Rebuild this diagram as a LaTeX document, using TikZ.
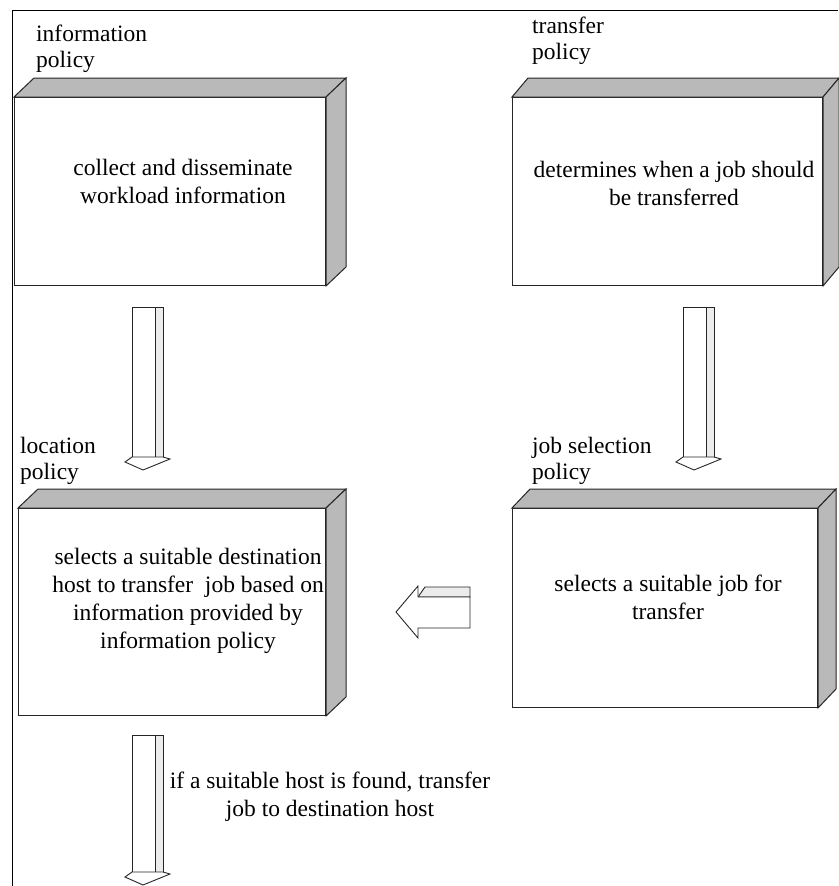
\documentclass[tikz,border=0pt]{standalone}
\usepackage{fontspec}
\setmainfont{Liberation Serif}
\usetikzlibrary{calc}

\tikzset{
  front/.style={draw=black!85,line width=1pt,fill=white,inner sep=0,anchor=north west},
  shade/.style={draw=black!85,line width=1pt,fill=gray!55},
  stem/.style={draw=black!85,line width=0.9pt,fill=white},
  stemside/.style={draw=black!85,line width=0.9pt,fill=gray!15},
  caption/.style={font=\fontsize{23.5}{26}\selectfont,align=left,anchor=north west,inner sep=0},
  boxtext/.style={font=\fontsize{23.5}{28}\selectfont,align=center,inner sep=0}
}

% depth faces of a box: name, shift x
\newcommand{\boxdepth}[2]{%
  \draw[shade] (#1.north west) -- ++(#2,-19) -- ($(#1.north east)+(#2,-19)$) -- (#1.north east) -- cycle;
  \draw[shade] (#1.north east) -- ($(#1.north east)+(#2,-19)$) -- ($(#1.south east)+(#2,-19)$) -- (#1.south east) -- cycle;
}
% block arrow pointing down: top coordinate, length of stem
\newcommand{\downblock}[2]{%
  \draw[stemside] ($(#1)+(23,0)$) rectangle ($(#1)+(31,#2)$);
  \draw[stem] (#1) rectangle ($(#1)+(23,#2)$);
  \draw[stem] ($(#1)+(0,#2)$) -- ($(#1)+(-7,#2+5)$) -- ($(#1)+(11,#2+13)$) -- ($(#1)+(38,#2+2)$) -- ($(#1)+(31,#2)$) -- cycle;
}

\begin{document}
\begin{tikzpicture}[x=1pt,y=1pt,yscale=-1]
\useasboundingbox (0,0) rectangle (838,886);

%Shape: frame
\draw[line width=1pt] (12,886) -- (12,10) -- (838,10);

%Shape: boxes
\node[front,minimum width=311pt,minimum height=188pt] (info) at (14,97) {};
\boxdepth{info}{20}
\node[front,minimum width=310pt,minimum height=188pt] (transfer) at (512,97) {};
\boxdepth{transfer}{16}
\node[front,minimum width=307pt,minimum height=207pt] (location) at (18,508) {};
\boxdepth{location}{20}
\node[front,minimum width=305pt,minimum height=199pt] (selection) at (512,508) {};
\boxdepth{selection}{18}

%Shape: block arrows
\coordinate (a1) at (132,307);
\coordinate (a2) at (683,307);
\coordinate (a3) at (132,735);
\downblock{a1}{150}
\downblock{a2}{150}
\downblock{a3}{137}

% arrow from job selection to location
\coordinate (a4) at (470,597);
\draw[stemside] (a4) -- ++(0,-10) -- ++(-45,0) -- ++(-7,10) -- cycle;
\draw[stem] (a4) -- ++(-52,0) -- ++(0,-11) -- ++(-22,26) -- ++(22,26) -- ++(0,-10) -- ++(52,0) -- cycle;

% Text Node
\node[caption] (infolabel) at (36,25) {information\\policy};
\node[caption] (transferlabel) at (532,17) {transfer\\policy};
\node[caption] (locationlabel) at (20,437) {location\\policy};
\node[caption] (selectionlabel) at (532,437) {job selection\\policy};

\node[boxtext] (infotext) at (183,181) {collect and disseminate\\workload information};
\node[boxtext] (transfertext) at (674,183) {determines when a job should\\be transferred};
\node[boxtext] (locationtext) at (188,601) {selects a suitable destination\\host to transfer~ job based on\\information provided by\\information policy};
\node[boxtext] (selectiontext) at (668,597) {selects a suitable job for\\transfer};
\node[boxtext] (hosttext) at (330,797) {if a suitable host is found, transfer\\job to destination host};

\end{tikzpicture}
\end{document}
